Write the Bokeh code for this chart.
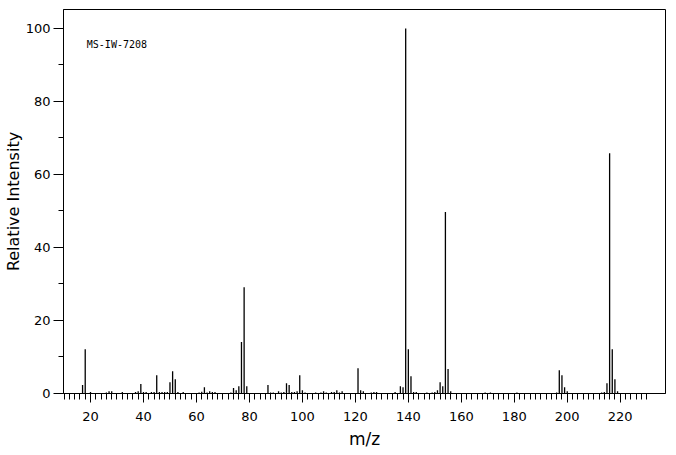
from bokeh.plotting import figure
from bokeh.models import FixedTicker, Range1d, Label
from bokeh.embed import file_html
from bokeh.resources import INLINE

# ---- data (m/z, relative intensity) ----
mz = [17, 18, 20, 26, 27, 28, 32, 37, 38, 39, 40, 41, 43, 44, 45, 46, 47, 48, 49,
      50, 51, 52, 53, 55, 61, 62, 63, 64, 65, 66, 67, 73, 74, 75, 76, 77, 78, 79,
      87, 88, 89, 91, 92, 93, 94, 95, 96, 97, 98, 99, 100, 101, 105, 107, 108, 109,
      111, 112, 113, 114, 115, 121, 122, 123, 126, 127, 128, 135, 137, 138, 139,
      140, 141, 142, 143, 147, 149, 150, 151, 152, 153, 154, 155, 156, 169, 171,
      181, 196, 197, 198, 199, 200, 213, 214, 215, 216, 217, 218, 219]
intensity = [2.3, 12.1, 0.4, 0.3, 0.6, 0.6, 0.4, 0.4, 0.6, 2.6, 0.4, 0.4, 0.4, 0.4,
             5.0, 0.4, 0.4, 0.4, 0.4, 3.1, 6.1, 3.9, 0.4, 0.4, 0.3, 0.5, 1.7, 0.3,
             0.6, 0.4, 0.4, 0.3, 1.5, 0.9, 2.0, 14.1, 29.1, 2.0, 2.3, 0.3, 0.3, 0.6,
             0.3, 0.4, 2.8, 2.3, 0.4, 0.4, 0.6, 5.0, 0.9, 0.3, 0.3, 0.3, 0.6, 0.3,
             0.4, 0.4, 0.9, 0.3, 0.6, 6.9, 0.9, 0.6, 0.3, 0.4, 0.4, 0.4, 2.0, 1.7,
             100.0, 12.1, 4.7, 0.4, 0.4, 0.3, 0.3, 0.4, 0.9, 3.1, 2.0, 49.7, 6.7,
             0.6, 0.3, 0.3, 0.3, 0.3, 6.4, 5.0, 1.7, 0.6, 0.3, 0.4, 2.8, 65.8, 12.1,
             3.9, 0.6]
baseline = [0.0] * len(mz)

x_major = [20, 40, 60, 80, 100, 120, 140, 160, 180, 200, 220]
x_minor = list(range(10, 232, 2))
y_major = [0, 20, 40, 60, 80, 100]
y_minor = [10, 30, 50, 70, 90]
sample_id = "MS-IW-7208"

FONT = "DejaVu Sans"

p = figure(width=676, height=455, output_backend="svg", toolbar_location=None,
           x_range=Range1d(9.8, 237.1), y_range=Range1d(0, 105.2),
           min_border_left=63, min_border_right=11, min_border_top=9,
           min_border_bottom=62)
p.grid.visible = False
p.outline_line_color = "black"
p.outline_line_width = 1
p.background_fill_color = "white"
p.border_fill_color = "white"

p.segment(x0=mz, y0=baseline, x1=mz, y1=intensity, line_color="black", line_width=1.3)

xa = p.xaxis[0]
xa.ticker = FixedTicker(ticks=x_major, minor_ticks=x_minor)
xa.axis_label = "m/z"
xa.axis_label_text_font = FONT
xa.axis_label_text_font_size = "17px"
xa.axis_label_text_font_style = "normal"
xa.axis_label_text_color = "black"
xa.axis_label_standoff = 5
xa.major_label_text_font = FONT
xa.major_label_text_font_size = "13px"
xa.major_label_text_color = "black"
xa.major_label_standoff = 9
xa.major_tick_out = 9
xa.major_tick_in = 0
xa.minor_tick_out = 6
xa.minor_tick_in = 0
xa.axis_line_color = "black"
xa.major_tick_line_color = "black"
xa.minor_tick_line_color = "black"

ya = p.yaxis[0]
ya.ticker = FixedTicker(ticks=y_major, minor_ticks=y_minor)
ya.axis_label = "Relative Intensity"
ya.axis_label_text_font = FONT
ya.axis_label_text_font_size = "16px"
ya.axis_label_text_font_style = "normal"
ya.axis_label_text_color = "black"
ya.axis_label_standoff = 0
ya.major_label_text_font = FONT
ya.major_label_text_font_size = "13px"
ya.major_label_text_color = "black"
ya.major_label_standoff = 3
ya.major_tick_out = 10
ya.major_tick_in = 0
ya.minor_tick_out = 5
ya.minor_tick_in = 0
ya.axis_line_color = "black"
ya.major_tick_line_color = "black"
ya.minor_tick_line_color = "black"

p.add_layout(Label(x=18.6, y=95.7, text=sample_id, text_font="DejaVu Sans Mono",
                   text_font_size="10px", text_color="black",
                   text_baseline="alphabetic", text_align="left"))

open("out.html", "w").write(file_html(p, INLINE))
